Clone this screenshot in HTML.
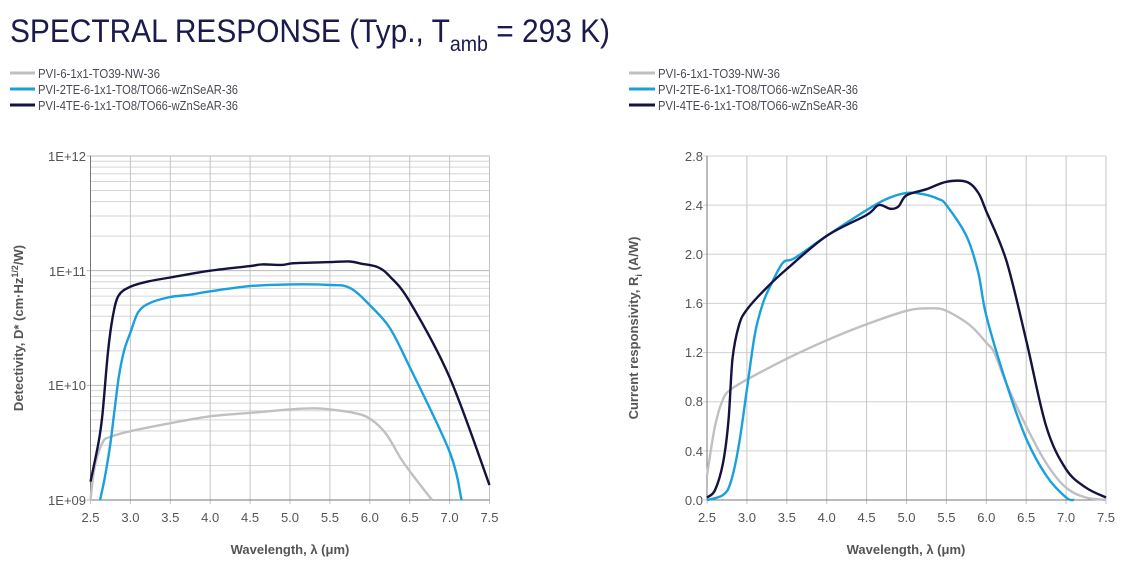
<!DOCTYPE html>
<html><head><meta charset="utf-8"><style>
html,body{margin:0;padding:0;background:#fff;width:1123px;height:564px;overflow:hidden}
svg{display:block}
text{font-family:"Liberation Sans",sans-serif}
</style></head><body>
<svg id="s" width="1123" height="564" viewBox="0 0 1123 564" xmlns="http://www.w3.org/2000/svg">
<text x="10" y="42" font-size="32" fill="#1b1a4d" textLength="600" lengthAdjust="spacingAndGlyphs">SPECTRAL RESPONSE (Typ., T<tspan font-size="21" dy="9">amb</tspan><tspan dy="-9"> = 293 K)</tspan></text>
<g font-size="13" fill="#4a4a55">
<line x1="10" y1="73" x2="35" y2="73" stroke="#c0c0c4" stroke-width="3"/>
<text x="38" y="78" textLength="122" lengthAdjust="spacingAndGlyphs">PVI-6-1x1-TO39-NW-36</text>
<line x1="10" y1="89" x2="35" y2="89" stroke="#1aa0dc" stroke-width="3"/>
<text x="38" y="94" textLength="200" lengthAdjust="spacingAndGlyphs">PVI-2TE-6-1x1-TO8/TO66-wZnSeAR-36</text>
<line x1="10" y1="105" x2="35" y2="105" stroke="#14133f" stroke-width="3"/>
<text x="38" y="110" textLength="200" lengthAdjust="spacingAndGlyphs">PVI-4TE-6-1x1-TO8/TO66-wZnSeAR-36</text>
<line x1="629" y1="73" x2="655" y2="73" stroke="#c0c0c4" stroke-width="3"/>
<text x="658" y="78" textLength="122" lengthAdjust="spacingAndGlyphs">PVI-6-1x1-TO39-NW-36</text>
<line x1="629" y1="89" x2="655" y2="89" stroke="#1aa0dc" stroke-width="3"/>
<text x="658" y="94" textLength="200" lengthAdjust="spacingAndGlyphs">PVI-2TE-6-1x1-TO8/TO66-wZnSeAR-36</text>
<line x1="629" y1="105" x2="655" y2="105" stroke="#14133f" stroke-width="3"/>
<text x="658" y="110" textLength="200" lengthAdjust="spacingAndGlyphs">PVI-4TE-6-1x1-TO8/TO66-wZnSeAR-36</text>
</g>
<g id="grid"></g>
<g font-size="13" fill="#555">
<text x="86" y="161" text-anchor="end">1E+12</text>
<text x="86" y="276" text-anchor="end">1E+11</text>
<text x="86" y="390" text-anchor="end">1E+10</text>
<text x="86" y="505" text-anchor="end">1E+09</text>
<text x="703" y="161" text-anchor="end">2.8</text>
<text x="703" y="210" text-anchor="end">2.4</text>
<text x="703" y="259" text-anchor="end">2.0</text>
<text x="703" y="308" text-anchor="end">1.6</text>
<text x="703" y="357" text-anchor="end">1.2</text>
<text x="703" y="406" text-anchor="end">0.8</text>
<text x="703" y="456" text-anchor="end">0.4</text>
<text x="703" y="505" text-anchor="end">0.0</text>
</g>
<g id="xl" font-size="13" fill="#555" text-anchor="middle"></g>
<g font-size="13" font-weight="bold" fill="#555" text-anchor="middle">
<text x="290" y="554">Wavelength, λ (μm)</text>
<text x="906" y="554">Wavelength, λ (μm)</text>
<text transform="translate(23,328) rotate(-90)">Detectivity, D* (cm·Hz<tspan font-size="9" dy="-5">1/2</tspan><tspan dy="5">/W)</tspan></text>
<text transform="translate(638,328) rotate(-90)">Current responsivity, R<tspan font-size="9" dy="4">i</tspan><tspan dy="-4"> (A/W)</tspan></text>
</g>
<g id="curves" fill="none" stroke-width="2.4" stroke-linejoin="round"></g>
</svg>
<script>
var NS="http://www.w3.org/2000/svg";
function el(p,t,a){var e=document.createElementNS(NS,t);for(var k in a)e.setAttribute(k,a[k]);p.appendChild(e);return e;}
var g=document.getElementById('grid'),xl=document.getElementById('xl'),cv=document.getElementById('curves');
var L={x0:90.5,x1:489.5,top:156,bot:500};
var R={x0:707,x1:1106,top:156,bot:500};
function lx(w){return L.x0+(w-2.5)/5*(L.x1-L.x0);}
function ly(v){return L.bot-(v-9)*(L.bot-L.top)/3;}
function rx(w){return R.x0+(w-2.5)/5*(R.x1-R.x0);}
function ry(v){return R.bot-v/2.8*(R.bot-R.top);}
for(var d=9;d<12;d++)for(var m=2;m<10;m++){var y=ly(d+Math.log10(m));el(g,'line',{x1:L.x0,x2:L.x1,y1:y,y2:y,stroke:'#d6d6d6','stroke-width':1});}
for(var d=9;d<=12;d++){var y=ly(d);el(g,'line',{x1:L.x0-4,x2:L.x1,y1:y,y2:y,stroke:'#b8b8b8','stroke-width':1});}
for(var i=0;i<=7;i++){var y=ry(i*0.4);el(g,'line',{x1:R.x0-4,x2:R.x1,y1:y,y2:y,stroke:'#d0d0d0','stroke-width':1});}
for(var i=0;i<=10;i++){var w=2.5+i*0.5;
 [[lx(w),L],[rx(w),R]].forEach(function(p){el(g,'line',{x1:p[0],x2:p[0],y1:p[1].top,y2:p[1].bot+4,stroke:'#c4c4c4','stroke-width':1});
 var t=el(xl,'text',{x:p[0],y:522});t.textContent=w.toFixed(1);});}
[L,R].forEach(function(a){el(g,'line',{x1:a.x0,x2:a.x0,y1:a.top,y2:a.bot,stroke:'#777','stroke-width':1});el(g,'line',{x1:a.x0,x2:a.x1,y1:a.bot,y2:a.bot,stroke:'#777','stroke-width':1});});
function path(pts,fx,fy,col){var P=pts.map(function(p){return [fx(p[0]),fy(p[1])]});
 var d='M'+P[0][0]+','+P[0][1];
 for(var i=0;i<P.length-1;i++){var p0=P[Math.max(0,i-1)],p1=P[i],p2=P[i+1],p3=P[Math.min(P.length-1,i+2)];
 var c1=[p1[0]+(p2[0]-p0[0])/6,p1[1]+(p2[1]-p0[1])/6],c2=[p2[0]-(p3[0]-p1[0])/6,p2[1]-(p3[1]-p1[1])/6];
 d+='C'+c1[0].toFixed(1)+','+c1[1].toFixed(1)+' '+c2[0].toFixed(1)+','+c2[1].toFixed(1)+' '+p2[0].toFixed(1)+','+p2[1].toFixed(1);}
 el(cv,'path',{d:d,stroke:col});}
var G='#c0c0c4',B='#1aa0dc',K='#14133f';
path([[2.5,9.0],[2.55,9.28],[2.65,9.5],[2.75,9.55],[3.0,9.6],[3.5,9.67],[4.0,9.73],[4.5,9.76],[5.0,9.79],[5.3,9.8],[5.5,9.79],[5.8,9.76],[6.0,9.71],[6.2,9.58],[6.4,9.35],[6.6,9.16],[6.78,9.0]],lx,ly,G);
path([[2.62,9.0],[2.68,9.2],[2.75,9.5],[2.85,10.05],[2.92,10.3],[3.0,10.46],[3.1,10.64],[3.25,10.72],[3.5,10.77],[3.75,10.79],[4.0,10.82],[4.5,10.865],[5.0,10.88],[5.5,10.875],[5.75,10.85],[6.0,10.7],[6.25,10.5],[6.5,10.16],[7.0,9.42],[7.15,9.0]],lx,ly,B);
path([[2.5,9.16],[2.6,9.5],[2.65,9.75],[2.72,10.3],[2.78,10.6],[2.85,10.78],[3.0,10.86],[3.25,10.91],[3.5,10.94],[4.0,11.0],[4.5,11.04],[4.65,11.055],[4.9,11.05],[5.05,11.065],[5.5,11.075],[5.75,11.08],[5.9,11.06],[6.1,11.03],[6.25,10.95],[6.5,10.73],[7.0,10.07],[7.5,9.13]],lx,ly,K);
path([[2.5,0.2],[2.6,0.6],[2.7,0.82],[2.8,0.9],[3.0,0.98],[3.5,1.15],[4.0,1.3],[4.5,1.43],[5.0,1.54],[5.3,1.56],[5.5,1.54],[5.8,1.42],[6.0,1.28],[6.1,1.2],[6.25,0.95],[6.5,0.6],[6.75,0.3],[7.0,0.1],[7.25,0.02],[7.5,0.0]],rx,ry,G);
path([[2.5,0.0],[2.7,0.04],[2.8,0.15],[2.9,0.45],[3.0,0.9],[3.1,1.35],[3.2,1.6],[3.3,1.75],[3.45,1.93],[3.6,1.97],[4.0,2.15],[4.5,2.36],[4.75,2.45],[5.0,2.5],[5.2,2.49],[5.4,2.45],[5.5,2.4],[5.75,2.15],[5.9,1.85],[6.0,1.5],[6.25,0.95],[6.5,0.5],[6.75,0.2],[7.0,0.02],[7.1,0.0]],rx,ry,B);
path([[2.5,0.02],[2.6,0.08],[2.7,0.3],[2.77,0.65],[2.82,1.15],[2.9,1.42],[3.0,1.55],[3.25,1.73],[3.5,1.88],[4.0,2.15],[4.5,2.32],[4.65,2.4],[4.8,2.37],[4.9,2.39],[5.0,2.48],[5.25,2.53],[5.5,2.59],[5.75,2.59],[5.9,2.5],[6.0,2.35],[6.25,1.95],[6.5,1.3],[6.75,0.6],[7.0,0.25],[7.25,0.1],[7.5,0.02]],rx,ry,K);
</script>
</body></html>
